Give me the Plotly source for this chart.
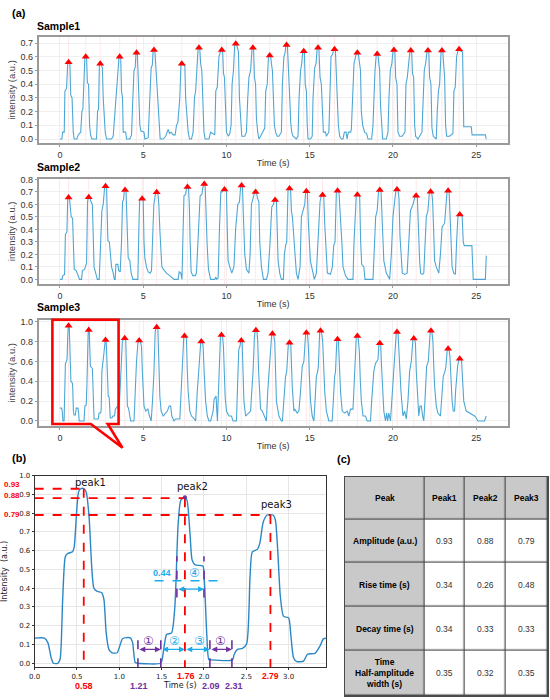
import plotly.graph_objects as go

W, H = 550, 700
def px(x): return x / W
def py(y): return 1 - y / H

# ---------------- data ----------------
s1_points = [
    (0.0,0.0),(0.12,0.0),(0.16,0.05),(0.26,0.05),
    (0.3,0.35),(0.4,0.37),(0.47,0.56),(0.6,0.55),(0.65,0.32),(0.73,0.3),(0.8,0.05),(0.86,0.0),(1.02,0.0),(1.1,0.03),
    (1.25,0.05),(1.32,0.2),(1.38,0.22),(1.44,0.4),(1.5,0.6),(1.6,0.6),(1.65,0.41),(1.72,0.4),(1.78,0.1),(1.84,0.03),(1.92,0.0),
    (2.2,0.0),(2.26,0.2),(2.32,0.22),(2.37,0.54),(2.47,0.55),(2.55,0.52),(2.6,0.3),(2.66,0.15),(2.72,0.05),(2.8,0.0),(3.1,0.0),
    (3.2,0.02),(3.3,0.2),(3.4,0.37),(3.5,0.5),(3.55,0.6),(3.65,0.6),(3.7,0.35),(3.76,0.3),(3.8,0.05),(3.95,0.05),(4.0,0.0),(4.2,0.0),
    (4.3,0.03),(4.38,0.3),(4.45,0.5),(4.52,0.52),(4.57,0.63),(4.65,0.63),(4.7,0.45),(4.76,0.35),(4.8,0.1),(4.86,0.06),(5.05,0.05),(5.1,0.0),
    (5.3,0.01),(5.4,0.3),(5.48,0.52),(5.55,0.54),(5.6,0.65),(5.7,0.65),(5.76,0.52),(5.82,0.45),(5.88,0.3),(5.95,0.08),(6.02,0.0),(6.2,0.0),
    (6.35,0.02),(6.5,0.07),(6.58,0.04),(6.68,0.05),(6.8,0.03),(6.92,0.03),
    (7.0,0.1),(7.08,0.12),(7.14,0.2),(7.2,0.3),(7.27,0.55),(7.38,0.55),(7.42,0.54),(7.5,0.54),(7.55,0.3),(7.62,0.15),(7.7,0.05),(7.78,0.0),(7.9,0.0),
    (8.0,0.05),(8.08,0.3),(8.15,0.35),(8.22,0.5),(8.3,0.665),(8.4,0.66),(8.45,0.55),(8.52,0.5),(8.58,0.25),(8.65,0.05),(8.72,0.0),(8.95,0.0),(9.05,0.05),
    (9.3,0.03),(9.36,0.35),(9.45,0.38),(9.55,0.6),(9.67,0.65),(9.77,0.65),(9.82,0.48),(9.88,0.45),(9.95,0.15),(10.0,0.05),(10.12,0.02),(10.2,0.04),
    (10.28,0.1),(10.34,0.4),(10.42,0.5),(10.5,0.695),(10.6,0.695),(10.65,0.66),(10.72,0.64),(10.78,0.3),(10.85,0.1),(10.92,0.02),(11.1,0.02),
    (11.2,0.05),(11.28,0.3),(11.35,0.45),(11.45,0.5),(11.54,0.665),(11.63,0.66),(11.68,0.45),(11.75,0.4),(11.8,0.15),(11.88,0.05),(11.95,0.0),(12.05,0.02),
    (12.3,0.08),(12.36,0.35),(12.45,0.4),(12.52,0.6),(12.65,0.61),(12.7,0.55),(12.76,0.5),(12.82,0.3),(12.88,0.1),(12.95,0.05),(13.05,0.02),(13.15,0.02),
    (13.3,0.05),(13.36,0.4),(13.45,0.6),(13.52,0.63),(13.57,0.685),(13.66,0.685),(13.72,0.45),(13.8,0.3),(13.86,0.12),(13.92,0.05),(14.0,0.02),(14.2,0.0),
    (14.3,0.02),(14.36,0.3),(14.45,0.5),(14.52,0.55),(14.58,0.64),(14.68,0.64),(14.73,0.4),(14.8,0.35),(14.85,0.1),(14.9,0.0),(15.05,0.0),
    (15.15,0.02),(15.2,0.3),(15.3,0.52),(15.38,0.55),(15.45,0.665),(15.55,0.665),(15.62,0.45),(15.7,0.4),(15.76,0.12),(15.82,0.05),(15.95,0.05),(16.0,0.02),
    (16.15,0.05),(16.2,0.3),(16.28,0.6),(16.38,0.62),(16.44,0.655),(16.54,0.655),(16.6,0.45),(16.66,0.35),(16.72,0.1),(16.8,0.02),(16.9,0.0),(17.0,0.0),
    (17.08,0.05),(17.18,0.05),(17.25,0.0),(17.32,0.05),(17.4,0.05),(17.46,0.05),
    (17.5,0.07),(17.58,0.3),(17.66,0.55),(17.75,0.6),(17.81,0.63),(17.92,0.62),(17.98,0.55),(18.05,0.5),(18.1,0.2),(18.18,0.1),(18.3,0.05),(18.42,0.04),(18.5,0.0),
    (18.72,0.0),(18.8,0.1),(18.85,0.3),(18.92,0.5),(19.0,0.62),(19.1,0.62),(19.15,0.55),(19.2,0.5),(19.25,0.25),(19.32,0.05),(19.38,0.0),(19.6,0.0),
    (19.7,0.05),(19.76,0.3),(19.84,0.5),(19.93,0.55),(20.01,0.65),(20.11,0.65),(20.16,0.45),(20.24,0.4),(20.3,0.05),(20.4,0.02),(20.55,0.02),
    (20.72,0.05),(20.78,0.4),(20.86,0.45),(20.94,0.55),(21.02,0.645),(21.12,0.645),(21.17,0.48),(21.24,0.45),(21.3,0.1),(21.36,0.02),(21.5,0.0),
    (21.74,0.05),(21.8,0.3),(21.88,0.5),(21.96,0.55),(22.05,0.645),(22.15,0.645),(22.2,0.45),(22.28,0.4),(22.34,0.08),(22.42,0.02),(22.55,0.0),
    (22.6,0.0),(22.66,0.2),(22.73,0.35),(22.8,0.4),(22.89,0.645),(22.99,0.64),(23.04,0.5),(23.1,0.45),(23.16,0.1),(23.22,0.02),(23.4,0.02),
    (23.6,0.04),(23.66,0.35),(23.74,0.38),(23.82,0.6),(23.92,0.655),(24.02,0.65),(24.08,0.64),(24.18,0.635),(24.25,0.09),(24.7,0.09),(24.75,0.03),(25.55,0.03),(25.6,0.0),
]
s1_peak_t = [0.52,1.55,2.42,3.59,4.60,5.65,7.32,8.35,9.72,10.56,11.59,12.60,13.61,14.64,15.50,16.49,17.86,19.05,20.06,21.07,22.10,22.94,23.97]
s1_peak_y = [0.56,0.60,0.55,0.60,0.63,0.65,0.55,0.665,0.65,0.695,0.665,0.61,0.685,0.64,0.665,0.655,0.63,0.62,0.65,0.645,0.645,0.645,0.655]

s2_points = [
    (0.0,0.0),(0.12,0.0),(0.18,0.03),(0.28,0.04),(0.33,0.36),(0.42,0.38),(0.47,0.655),(0.58,0.65),(0.64,0.55),(0.68,0.5),(0.76,0.49),(0.8,0.3),(0.86,0.08),(0.98,0.07),(1.08,0.04),(1.18,0.0),(1.3,0.0),(1.35,0.07),(1.48,0.08),(1.55,0.12),
    (1.6,0.13),(1.66,0.62),(1.7,0.657),(1.8,0.655),(1.84,0.63),(1.95,0.6),(2.0,0.3),(2.05,0.1),(2.15,0.05),(2.25,0.0),(2.36,0.0),
    (2.44,0.3),(2.52,0.55),(2.6,0.6),(2.69,0.745),(2.8,0.745),(2.84,0.6),(2.88,0.31),(2.97,0.3),(3.02,0.2),(3.1,0.1),(3.2,0.05),(3.27,0.0),(3.32,0.0),(3.36,0.12),(3.48,0.12),(3.53,0.07),(3.62,0.06),
    (3.7,0.3),(3.76,0.62),(3.82,0.64),(3.87,0.715),(3.97,0.715),(4.02,0.5),(4.06,0.3),(4.1,0.17),(4.2,0.15),(4.28,0.05),(4.38,0.0),(4.68,0.0),
    (4.74,0.4),(4.79,0.64),(4.88,0.646),(5.0,0.646),(5.05,0.3),(5.1,0.17),(5.2,0.1),(5.3,0.06),(5.42,0.05),(5.5,0.07),
    (5.56,0.3),(5.64,0.6),(5.72,0.67),(5.77,0.697),(5.88,0.697),(5.94,0.6),(6.0,0.4),(6.06,0.2),(6.12,0.1),(6.22,0.08),(6.4,0.05),(6.6,0.03),(6.85,0.0),(7.1,0.0),(7.16,0.06),(7.26,0.05),(7.33,0.0),
    (7.38,0.3),(7.45,0.67),(7.55,0.68),(7.61,0.74),(7.72,0.74),(7.77,0.6),(7.82,0.3),(7.88,0.06),(7.98,0.03),(8.12,0.03),(8.2,0.05),
    (8.3,0.4),(8.42,0.67),(8.52,0.68),(8.62,0.763),(8.72,0.763),(8.77,0.5),(8.84,0.28),(8.92,0.08),(9.05,0.0),(9.3,0.0),(9.36,0.02),(9.42,0.0),
    (9.5,0.01),(9.58,0.4),(9.66,0.7),(9.75,0.7),(9.83,0.72),(9.95,0.72),(10.0,0.7),(10.05,0.4),(10.1,0.15),(10.2,0.1),(10.32,0.05),
    (10.45,0.1),(10.55,0.4),(10.68,0.6),(10.78,0.62),(10.86,0.752),(10.96,0.752),(11.02,0.5),(11.1,0.2),(11.2,0.08),(11.35,0.05),
    (11.42,0.2),(11.5,0.6),(11.6,0.65),(11.7,0.7),(11.8,0.7),(11.86,0.65),(11.95,0.62),(12.0,0.3),(12.1,0.1),(12.22,0.0),(12.4,0.0),(12.5,0.05),
    (12.62,0.3),(12.72,0.58),(12.82,0.6),(12.88,0.636),(13.0,0.636),(13.05,0.4),(13.1,0.15),(13.2,0.05),(13.3,0.0),(13.42,0.0),
    (13.48,0.2),(13.55,0.27),(13.62,0.3),(13.7,0.728),(13.85,0.728),(13.9,0.55),(13.96,0.5),(14.04,0.35),(14.12,0.15),(14.2,0.05),(14.3,0.0),
    (14.42,0.1),(14.5,0.5),(14.62,0.55),(14.7,0.6),(14.76,0.705),(14.86,0.705),(14.92,0.45),(14.96,0.35),(15.04,0.15),(15.15,0.08),(15.28,0.0),
    (15.4,0.05),(15.52,0.4),(15.62,0.62),(15.7,0.675),(15.84,0.675),(15.9,0.45),(15.96,0.3),(16.06,0.05),(16.25,0.04),
    (16.36,0.1),(16.44,0.27),(16.52,0.3),(16.6,0.7),(16.65,0.71),(16.75,0.71),(16.82,0.5),(16.88,0.45),(16.93,0.3),(17.0,0.1),(17.15,0.03),(17.3,0.0),(17.6,0.0),
    (17.66,0.3),(17.74,0.6),(17.8,0.678),(17.94,0.678),(18.0,0.66),(18.06,0.3),(18.12,0.12),(18.25,0.1),(18.32,0.0),(18.8,0.0),
    (18.88,0.2),(18.96,0.5),(19.05,0.55),(19.14,0.715),(19.28,0.715),(19.32,0.55),(19.36,0.4),(19.45,0.15),(19.6,0.05),(19.8,0.0),
    (19.9,0.2),(20.0,0.5),(20.08,0.6),(20.18,0.72),(20.3,0.72),(20.36,0.65),(20.42,0.35),(20.48,0.2),(20.56,0.05),(20.7,0.04),(20.85,0.05),
    (20.95,0.3),(21.05,0.55),(21.2,0.6),(21.28,0.63),(21.34,0.67),(21.46,0.67),(21.52,0.4),(21.6,0.15),(21.66,0.05),(21.76,0.04),(21.85,0.05),
    (21.92,0.3),(22.0,0.5),(22.1,0.55),(22.19,0.702),(22.32,0.702),(22.38,0.63),(22.44,0.4),(22.5,0.15),(22.6,0.1),(22.75,0.05),
    (22.85,0.2),(22.95,0.42),(23.1,0.45),(23.25,0.71),(23.37,0.71),(23.42,0.5),(23.46,0.35),(23.55,0.1),(23.65,0.05),(23.75,0.04),
    (23.82,0.3),(23.9,0.5),(23.98,0.52),(24.15,0.52),(24.22,0.3),(24.28,0.27),(24.74,0.27),(24.82,0.0),(25.55,0.0),(25.6,0.19),
]
s2_peak_t = [0.52,1.73,2.74,3.91,4.94,5.81,7.66,8.67,9.88,10.91,11.75,12.92,13.79,14.80,15.77,16.67,17.86,19.21,20.24,21.39,22.26,23.31,24.01]
s2_peak_y = [0.655,0.657,0.745,0.715,0.646,0.697,0.74,0.763,0.72,0.752,0.70,0.636,0.728,0.705,0.675,0.71,0.678,0.715,0.72,0.67,0.702,0.71,0.52]

s3_points = [
    (0.0,0.13),(0.1,0.13),(0.14,0.1),(0.18,0.0),(0.25,0.0),(0.29,0.35),(0.33,0.58),(0.4,0.6),(0.43,0.63),(0.47,0.85),(0.5,0.96),(0.56,0.96),(0.6,0.8),(0.64,0.5),(0.66,0.4),(0.75,0.38),(0.77,0.33),(0.81,0.1),(0.85,0.06),(0.93,0.06),(0.98,0.13),(1.08,0.13),(1.12,0.09),(1.16,0.0),(1.45,0.0),
    (1.5,0.15),(1.58,0.16),(1.62,0.35),(1.66,0.8),(1.7,0.917),(1.76,0.91),(1.8,0.7),(1.83,0.55),(1.95,0.53),(1.98,0.4),(2.02,0.05),(2.05,0.02),(2.3,0.02),(2.35,0.08),(2.45,0.08),
    (2.48,0.12),(2.52,0.5),(2.55,0.6),(2.6,0.62),(2.63,0.66),(2.68,0.8),(2.72,0.817),(2.78,0.81),(2.81,0.7),(2.85,0.4),(2.9,0.25),(2.96,0.24),(3.0,0.1),(3.02,0.03),(3.12,0.03),(3.18,0.05),(3.28,0.05),(3.33,0.12),(3.42,0.14),(3.5,0.15),(3.58,0.2),
    (3.66,0.5),(3.75,0.8),(3.82,0.833),(3.95,0.833),(4.0,0.5),(4.05,0.15),(4.12,0.13),(4.18,0.05),(4.25,0.0),(4.45,0.0),
    (4.52,0.3),(4.6,0.6),(4.68,0.78),(4.72,0.81),(4.82,0.81),(4.9,0.75),(4.95,0.5),(4.99,0.3),(5.05,0.15),(5.15,0.1),(5.28,0.12),(5.38,0.05),(5.48,0.0),
    (5.56,0.2),(5.65,0.5),(5.72,0.9),(5.78,0.943),(5.88,0.943),(5.92,0.7),(5.96,0.5),(6.0,0.25),(6.08,0.1),(6.2,0.05),(6.35,0.08),(6.45,0.1),(6.56,0.15),(6.65,0.15),(6.72,0.05),(6.78,0.02),(6.85,0.0),(6.95,0.02),(7.2,0.02),
    (7.28,0.3),(7.38,0.75),(7.44,0.857),(7.54,0.857),(7.6,0.82),(7.65,0.5),(7.7,0.3),(7.8,0.1),(7.9,0.05),(8.08,0.02),(8.15,0.0),
    (8.25,0.3),(8.35,0.6),(8.42,0.75),(8.46,0.8),(8.55,0.8),(8.6,0.75),(8.66,0.5),(8.75,0.2),(8.85,0.05),(8.95,0.0),(9.05,0.0),(9.12,0.05),(9.2,0.1),(9.26,0.22),(9.38,0.25),(9.42,0.1),(9.46,0.0),
    (9.5,0.2),(9.56,0.6),(9.64,0.85),(9.66,0.867),(9.76,0.867),(9.82,0.75),(9.87,0.45),(9.92,0.25),(10.0,0.1),(10.15,0.05),(10.3,0.05),(10.4,0.0),(10.6,0.0),
    (10.66,0.3),(10.74,0.72),(10.82,0.76),(10.86,0.81),(10.94,0.81),(10.98,0.5),(11.05,0.2),(11.15,0.05),(11.3,0.08),(11.45,0.1),
    (11.52,0.3),(11.6,0.5),(11.68,0.85),(11.73,0.913),(11.83,0.913),(11.88,0.8),(11.93,0.5),(11.98,0.3),(12.05,0.12),(12.15,0.1),(12.3,0.03),(12.4,0.0),
    (12.48,0.3),(12.6,0.6),(12.68,0.85),(12.72,0.88),(12.82,0.88),(12.9,0.8),(12.95,0.5),(13.0,0.2),(13.15,0.05),(13.3,0.0),(13.36,0.0),
    (13.44,0.2),(13.55,0.45),(13.62,0.5),(13.72,0.787),(13.86,0.787),(13.9,0.6),(13.95,0.35),(14.05,0.1),(14.1,0.12),(14.25,0.08),(14.35,0.1),
    (14.45,0.3),(14.55,0.55),(14.65,0.6),(14.72,0.85),(14.76,0.89),(14.86,0.89),(14.92,0.75),(14.98,0.45),(15.05,0.2),(15.15,0.05),(15.25,0.0),
    (15.32,0.2),(15.4,0.45),(15.48,0.5),(15.52,0.55),(15.6,0.91),(15.7,0.91),(15.78,0.8),(15.84,0.5),(15.9,0.3),(16.0,0.1),(16.15,0.0),(16.35,0.0),
    (16.42,0.3),(16.5,0.45),(16.55,0.5),(16.63,0.823),(16.72,0.823),(16.78,0.55),(16.85,0.3),(16.95,0.1),(17.1,0.08),(17.25,0.1),(17.35,0.05),(17.45,0.12),(17.6,0.12),
    (17.65,0.3),(17.72,0.6),(17.8,0.857),(17.9,0.857),(17.98,0.7),(18.04,0.4),(18.1,0.2),(18.2,0.05),(18.35,0.05),(18.45,0.0),(18.65,0.0),
    (18.72,0.2),(18.85,0.5),(18.95,0.58),(19.05,0.6),(19.1,0.62),(19.16,0.783),(19.26,0.783),(19.3,0.6),(19.35,0.4),(19.45,0.1),(19.55,0.0),(19.62,0.08),(19.68,0.0),(19.75,0.08),(19.85,0.0),
    (19.92,0.2),(20.02,0.5),(20.12,0.7),(20.2,0.897),(20.3,0.897),(20.36,0.75),(20.42,0.5),(20.48,0.3),(20.6,0.05),(20.7,0.1),(20.8,0.02),
    (20.9,0.2),(21.0,0.5),(21.1,0.6),(21.2,0.83),(21.3,0.83),(21.35,0.78),(21.4,0.5),(21.48,0.2),(21.55,0.05),(21.62,0.15),(21.7,0.15),(21.78,0.05),(21.85,0.0),
    (21.92,0.2),(22.02,0.55),(22.12,0.6),(22.2,0.85),(22.24,0.91),(22.33,0.91),(22.4,0.8),(22.45,0.55),(22.5,0.35),(22.6,0.15),(22.7,0.08),(22.85,0.05),
    (22.92,0.2),(23.02,0.45),(23.12,0.5),(23.18,0.55),(23.26,0.727),(23.36,0.727),(23.42,0.65),(23.48,0.4),(23.55,0.2),(23.62,0.1),(23.7,0.1),
    (23.76,0.3),(23.82,0.5),(23.88,0.55),(23.96,0.627),(24.06,0.627),(24.12,0.6),(24.18,0.4),(24.25,0.2),(24.4,0.1),(24.6,0.08),(24.9,0.05),(25.0,0.03),(25.1,0.0),(25.5,0.0),(25.6,0.05),
]
s3_peak_t = [0.52,1.73,2.74,3.89,4.76,5.81,7.48,8.49,9.70,10.89,11.77,12.76,13.79,14.80,15.65,16.67,17.86,19.21,20.24,21.25,22.28,23.31,24.01]
s3_peak_y = [0.96,0.917,0.817,0.833,0.81,0.943,0.857,0.80,0.867,0.81,0.913,0.88,0.787,0.89,0.91,0.823,0.857,0.783,0.897,0.83,0.91,0.727,0.627]

# panel (b): zoom on the first three peaks of Sample3
b_points = [
    (0.0,0.134),(0.117,0.134),(0.156,0.11),(0.195,0.03),(0.222,0.0),(0.273,0.0),(0.30,0.02),(0.331,0.34),(0.362,0.568),(0.39,0.585),
    (0.448,0.594),(0.467,0.62),(0.495,0.80),(0.518,0.912),(0.545,0.93),(0.584,0.93),(0.61,0.91),(0.643,0.78),(0.674,0.515),(0.70,0.40),
    (0.74,0.383),(0.79,0.377),(0.818,0.34),(0.845,0.162),(0.877,0.074),(0.915,0.056),(0.974,0.056),(1.005,0.092),(1.04,0.132),(1.13,0.136),
    (1.157,0.11),(1.188,0.004),(1.22,0.0),(1.49,0.0),(1.508,0.025),(1.53,0.09),(1.558,0.153),(1.617,0.162),(1.656,0.30),(1.695,0.744),
    (1.726,0.868),(1.773,0.885),(1.80,0.868),(1.835,0.69),(1.86,0.55),(1.897,0.524),(1.987,0.518),(2.006,0.427),(2.034,0.145),(2.057,0.02),
    (2.084,0.018),(2.337,0.018),(2.357,0.048),(2.396,0.074),(2.454,0.079),(2.505,0.106),(2.544,0.462),(2.571,0.594),(2.63,0.607),(2.66,0.64),
    (2.70,0.753),(2.746,0.79),(2.817,0.79),(2.844,0.762),(2.871,0.603),(2.902,0.356),(2.94,0.25),(3.0,0.242),(3.027,0.145),(3.058,0.03),
    (3.097,0.009),(3.175,0.012),(3.222,0.048),(3.31,0.053),(3.37,0.092),(3.41,0.13),(3.447,0.134),
]
b_peak_t = [0.58, 1.775, 2.785]
b_peak_amp = [0.93, 0.88, 0.79]
b_peak_names = ["peak1", "peak2", "peak3"]
b_interval_t = [1.22, 1.49, 2.07, 2.33]        # purple markers (1.21, 1.50, 2.09, 2.31)
b_half_t = [1.68, 2.00]                         # half-amplitude width bounds
b_half_level = 0.44

# panel (c) table
table_header = ["Peak", "Peak1", "Peak2", "Peak3"]
table_rows = ["Amplitude (a.u.)", "Rise time (s)", "Decay time (s)", "Time<br>Half-amplitude<br>width (s)"]
amplitude = [0.93, 0.88, 0.79]
rise_time = [0.34, 0.26, 0.48]
decay_time = [0.34, 0.33, 0.33]
half_width = [0.35, 0.32, 0.35]

# ---------------- styling ----------------
LINE_A = "#4da7d6"
LINE_B = "#2b86c5"
RED = "#ff0000"
PURPLE = "#7030a0"
CYAN = "#1aacec"
GRAY = "#c9c9c9"
FA = "Liberation Sans, Arial, sans-serif"
FB = "DejaVu Sans, sans-serif"
CIRC = "DejaVu Sans, Noto Sans CJK SC, sans-serif"

fig = go.Figure()

samples = [
    ("", s1_points, s1_peak_t, s1_peak_y, [py(140), py(33)], [-0.029, 0.746], 0.1),
    ("2", s2_points, s2_peak_t, s2_peak_y, [py(282), py(176)], [-0.037, 0.806], 0.1),
    ("3", s3_points, s3_peak_t, s3_peak_y, [py(425), py(318)], [-0.05, 1.02], 0.2),
]
shapes = []
layout_axes = {}
for suf, pts, pt, pyv, ydom, yr, dt in samples:
    fig.add_trace(go.Scatter(x=[p[0] for p in pts], y=[p[1] for p in pts], mode="lines",
                             line=dict(color=LINE_A, width=1.1), xaxis="x" + suf, yaxis="y" + suf,
                             showlegend=False, hoverinfo="skip"))
    fig.add_trace(go.Scatter(x=pt, y=pyv, mode="markers", marker=dict(symbol="triangle-up", size=7, color=RED),
                             xaxis="x" + suf, yaxis="y" + suf, showlegend=False, cliponaxis=False))
    for t in pt:
        shapes.append(dict(type="line", xref="x" + suf, yref="y" + suf + " domain", x0=t, x1=t, y0=0, y1=1,
                           line=dict(color="rgba(255,90,90,0.18)", width=0.8), layer="below"))
    layout_axes["xaxis" + suf] = dict(
        domain=[px(32), px(507)], range=[-1.28, 26.88], anchor="y" + suf,
        tickvals=[0, 5, 10, 15, 20, 25], showline=True, mirror=True, linecolor="#9a9a9a", linewidth=1.6,
        showgrid=True, gridcolor="#efefef", gridwidth=0.8, zeroline=False,
        ticks="outside", ticklen=2, tickcolor="#9a9a9a", tickfont=dict(family=FA, size=9, color="#333"),
        title=dict(text="Time (s)", font=dict(family=FA, size=9, color="#333"), standoff=1))
    layout_axes["yaxis" + suf] = dict(
        domain=ydom, range=yr, anchor="x" + suf, dtick=dt, tick0=0, tickformat=".1f",
        showline=True, mirror=True, linecolor="#9a9a9a", linewidth=1.6,
        showgrid=True, gridcolor="#efefef", gridwidth=0.8, zeroline=False,
        ticks="outside", ticklen=2, tickcolor="#9a9a9a", tickfont=dict(family=FA, size=9, color="#333"),
        title=dict(text="intensity (a.u.)", font=dict(family=FA, size=9.5, color="#444"), standoff=3))

# panel (b)
fig.add_trace(go.Scatter(x=[p[0] for p in b_points], y=[p[1] for p in b_points], mode="lines",
                         line=dict(color=LINE_B, width=1.4, shape="spline", smoothing=0.6),
                         xaxis="x4", yaxis="y4", showlegend=False, hoverinfo="skip"))
rx, ry = [], []
for t, a in zip(b_peak_t, b_peak_amp):
    rx += [0, t, None, t, t, None]
    ry += [a, a, None, a, -0.021, None]
fig.add_trace(go.Scatter(x=rx, y=ry, mode="lines", line=dict(color=RED, width=1.8, dash="dash"),
                         xaxis="x4", yaxis="y4", showlegend=False, hoverinfo="skip"))
pxl, pyl = [], []
for t in b_interval_t:
    pxl += [t, t, None]
    pyl += [-0.021, 0.145, None]
for t in b_half_t:
    pxl += [t, t, None]
    pyl += [0.35, 0.57, None]
fig.add_trace(go.Scatter(x=pxl, y=pyl, mode="lines", line=dict(color=PURPLE, width=1.6, dash="dash"),
                         xaxis="x4", yaxis="y4", showlegend=False, hoverinfo="skip"))
fig.add_trace(go.Scatter(x=[1.416, 2.24], y=[b_half_level, b_half_level], mode="lines",
                         line=dict(color=CYAN, width=1.6, dash="dash"),
                         xaxis="x4", yaxis="y4", showlegend=False, hoverinfo="skip"))
fig.add_trace(go.Scatter(x=[b_peak_t[1]], y=[b_peak_amp[1] + 0.005], mode="markers",
                         marker=dict(color=PURPLE, size=4), xaxis="x4", yaxis="y4", showlegend=False))

layout_axes["xaxis4"] = dict(
    domain=[px(28), px(323)], range=[0, 3.44], anchor="y4", dtick=0.5, tick0=0, tickformat=".1f",
    showline=True, mirror=True, linecolor="#333", linewidth=0.8, showgrid=True, gridcolor="#e6e6e6",
    zeroline=False, ticks="outside", ticklen=2, tickcolor="#333", tickfont=dict(family=FB, size=7, color="#222"),
    title=dict(text="Time (s)", font=dict(family=FB, size=8, color="#222"), standoff=1))
layout_axes["yaxis4"] = dict(
    domain=[py(668), py(475)], range=[-0.021, 1.0], anchor="x4", dtick=0.1, tick0=0, tickformat=".1f",
    showline=True, mirror=True, linecolor="#333", linewidth=0.8, showgrid=True, gridcolor="#e6e6e6",
    zeroline=False, ticks="outside", ticklen=2, tickcolor="#333", tickfont=dict(family=FB, size=7, color="#222"),
    title=dict(text="Intensity  (a.u.)", font=dict(family=FB, size=8, color="#222"), standoff=14))

# panel (c) table, drawn as a heatmap grid on its own axes
col_edges = [0, 81, 122, 163, 206]
row_edges = [0, 43, 87, 131, 175, 221]
cell_fill = [[1, 1, 1, 1], [1, 0, 0, 0], [1, 0, 0, 0], [1, 0, 0, 0], [1, 0, 0, 0]]
fig.add_trace(go.Heatmap(z=cell_fill, x=col_edges, y=row_edges, xaxis="x5", yaxis="y5",
                         colorscale=[[0, "white"], [1, GRAY]], zmin=0, zmax=1, showscale=False,
                         xgap=1.2, ygap=1.2, hoverinfo="skip"))
shapes.append(dict(type="rect", xref="x5 domain", yref="y5 domain", x0=0, x1=1, y0=0, y1=1,
                   fillcolor="#4a4a4a", line=dict(width=0), layer="below"))
layout_axes["xaxis5"] = dict(domain=[px(342), px(548)], range=[0, 206], anchor="y5", showgrid=False,
                             zeroline=False, showticklabels=False, ticks="", showline=True, mirror=True,
                             linecolor="#4a4a4a", linewidth=1.2)
layout_axes["yaxis5"] = dict(domain=[py(697), py(476)], range=[221, 0], anchor="x5", showgrid=False,
                             zeroline=False, showticklabels=False, ticks="", showline=True, mirror=True,
                             linecolor="#4a4a4a", linewidth=1.2)

# ---------------- annotations ----------------
ann = []
def label(text, x, y, size, color="black", xref="paper", yref="paper", bold=False, family=FA, xanchor="center"):
    ann.append(dict(text=("<b>%s</b>" % text) if bold else text, x=x, y=y, xref=xref, yref=yref,
                    showarrow=False, font=dict(family=family, size=size, color=color),
                    xanchor=xanchor, yanchor="middle"))

value_cols = [amplitude, rise_time, decay_time, half_width]
col_mid = [(col_edges[i] + col_edges[i + 1]) / 2 for i in range(4)]
row_mid = [(row_edges[i] + row_edges[i + 1]) / 2 for i in range(5)]
for j, h in enumerate(table_header):
    label(h, col_mid[j], row_mid[0], 8.5, xref="x5", yref="y5", bold=True)
for i, rname in enumerate(table_rows):
    label(rname, col_mid[0], row_mid[i + 1], 8.5, xref="x5", yref="y5", bold=True)
    for j in range(3):
        label("%.2f" % value_cols[i][j], col_mid[j + 1], row_mid[i + 1], 8.5, color="#333", xref="x5", yref="y5")

label("(a)", px(3), py(9), 11, bold=True, xanchor="left")
label("Sample1", px(28), py(22), 10.5, bold=True, xanchor="left")
label("Sample2", px(28), py(164), 10.5, bold=True, xanchor="left")
label("Sample3", px(28), py(305), 10.5, bold=True, xanchor="left")
label("(b)", px(3), py(457), 11, bold=True, xanchor="left")
label("(c)", px(332), py(458), 11, bold=True, xanchor="left")

for name, (xx, yy) in zip(b_peak_names, [(0.665, 0.965), (1.86, 0.94), (2.855, 0.845)]):
    label(name, xx, yy, 10, color="#111", xref="x4", yref="y4", family=FB)
for a, yy in zip(b_peak_amp, [484, 495.5, 514.5]):
    ann.append(dict(text="<b>%.2f</b>" % a, x=px(15), y=py(yy), xref="paper", yref="paper", showarrow=False,
                    font=dict(family=FA, size=8, color=RED), xanchor="right", yanchor="middle"))
label("0.58", b_peak_t[0], py(687), 9, color=RED, xref="x4", bold=True)
label("1.76", 1.785, py(677), 9, color=RED, xref="x4", bold=True)
label("2.79", 2.785, py(677), 8.5, color=RED, xref="x4", bold=True)
label("1.21", 1.23, py(687), 9, color=PURPLE, xref="x4", bold=True)
label("2.09", 2.085, py(687), 9, color=PURPLE, xref="x4", bold=True)
label("2.31", 2.357, py(687), 9, color=PURPLE, xref="x4", bold=True)
arrows = [(b_interval_t[0], b_interval_t[1], 0.074, PURPLE),
          (b_interval_t[1], b_peak_t[1], 0.074, CYAN),
          (b_peak_t[1], b_interval_t[2], 0.074, CYAN),
          (b_interval_t[2], b_interval_t[3], 0.074, PURPLE),
          (b_half_t[0], b_half_t[1], 0.395, CYAN)]
for x0, x1, yy, c in arrows:
    ann.append(dict(x=x1, y=yy, ax=x0, ay=yy, xref="x4", yref="y4", axref="x4", ayref="y4", text="",
                    showarrow=True, arrowhead=2, startarrowhead=2, arrowside="end+start",
                    arrowsize=0.9, arrowwidth=1.3, arrowcolor=c, standoff=0, startstandoff=0))
for txt, xx, yy, c in [("①", 1.34, 0.118, PURPLE), ("②", 1.656, 0.118, CYAN), ("③", 1.948, 0.118, CYAN),
                       ("①", 2.195, 0.118, PURPLE), ("④", 1.89, 0.483, CYAN)]:
    label(txt, xx, yy, 12, color=c, xref="x4", yref="y4", family=CIRC)
label("%.2f" % b_half_level, 1.5, 0.483, 9, color=CYAN, xref="x4", yref="y4", bold=True)

# red zoom box with callout
pts = [(85, 423), (46, 423), (46, 318), (113, 318), (113, 423), (102, 423), (117, 447)]
path = "M " + " L ".join("%.4f,%.4f" % (px(a), py(b)) for a, b in pts) + " Z"
shapes.append(dict(type="path", xref="paper", yref="paper", path=path, line=dict(color=RED, width=2.6)))

fig.update_layout(width=W, height=H, margin=dict(l=0, r=0, t=0, b=0), paper_bgcolor="white",
                  plot_bgcolor="white", showlegend=False, shapes=shapes, annotations=ann, **layout_axes)
fig.write_html("out.html", config={"displayModeBar": False},
               post_script="document.body.style.margin='0px';document.body.style.overflow='hidden';")
